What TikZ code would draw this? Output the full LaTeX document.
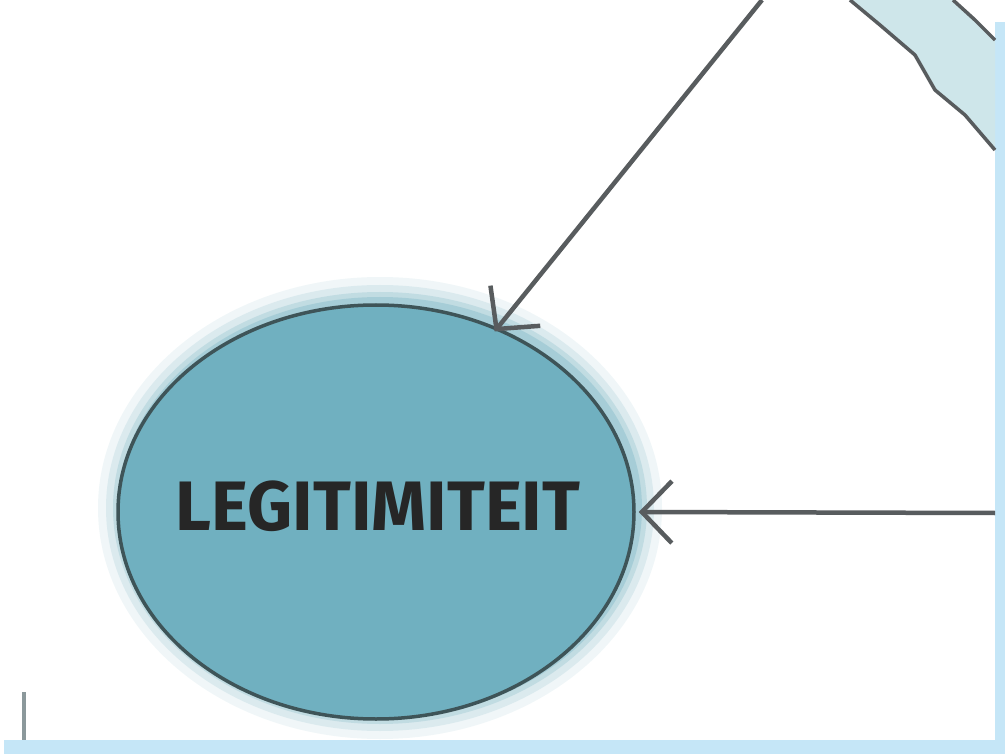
\documentclass[tikz,border=0pt]{standalone}
\usepackage{fontspec}
\setmainfont{Fira Sans}
\usetikzlibrary{shapes.geometric,arrows.meta,positioning}

\begin{document}
\begin{tikzpicture}[x=1pt,y=-1pt]
        \definecolor{frameblue}{RGB}{197,230,247}
        \definecolor{ovalfill}{RGB}{112,176,192}
        \definecolor{ovalline}{RGB}{62,84,88}
        \definecolor{penline}{RGB}{88,92,94}
        \definecolor{bandfill}{RGB}{206,230,234}

        \useasboundingbox (0,0) rectangle (1005,754);
        \fill[white] (0,0) rectangle (1005,754);

        % Frame strips right and bottom
        \fill[frameblue] (995,22) rectangle (1005,754);
        \fill[frameblue] (4,740) rectangle (1005,754);

        % Band in the top right corner
        \fill[bandfill] (850,0) -- (880,25) -- (915,55) -- (935,90) -- (965,115) -- (995,150)
            -- (995,40) -- (953,0) -- cycle;
        \draw[penline, line width=3.5pt, line join=round] (850,0) -- (880,25) -- (915,55) -- (935,90) -- (965,115) -- (995,150);
        \draw[penline, line width=3.5pt, line join=round] (953,0) -- (975,20) -- (995,40);

        % Soft halo round the oval
        \foreach \grow/\op in {24/0.10,16/0.16,9/0.24,4/0.32}
            \fill[ovalfill, opacity=\op] (380,508) ellipse ({258+\grow} and {207+\grow});

        % Oval and its label
        \node[ellipse, draw=ovalline, line width=3.5pt, fill=ovalfill, inner sep=0pt,
              minimum width=516pt, minimum height=414pt] (legit) at (376,512) {};
        \node[font=\fontsize{70}{70}\selectfont\bfseries, text=black!85] (legittext) at (378,506) {LEGITIMITEIT};

        % Connectors
        \coordinate (topin) at (762,0);
        \coordinate (rightin) at (995,513);
        \draw[penline, line width=4.5pt, -{Straight Barb[length=30pt, width=64pt, line width=4.5pt]}] (topin) -- ([shift={(2pt,-6pt)}]legit.58);
        \draw[penline, line width=4.5pt, -{Straight Barb[length=30pt, width=62pt, line width=4.5pt]}] (rightin) -- ([xshift=3pt]legit.east);

        % Stub at the lower left
        \draw[ovalline!60, line width=4pt] (24,692) -- (24,740);
    \end{tikzpicture}
\end{document}
